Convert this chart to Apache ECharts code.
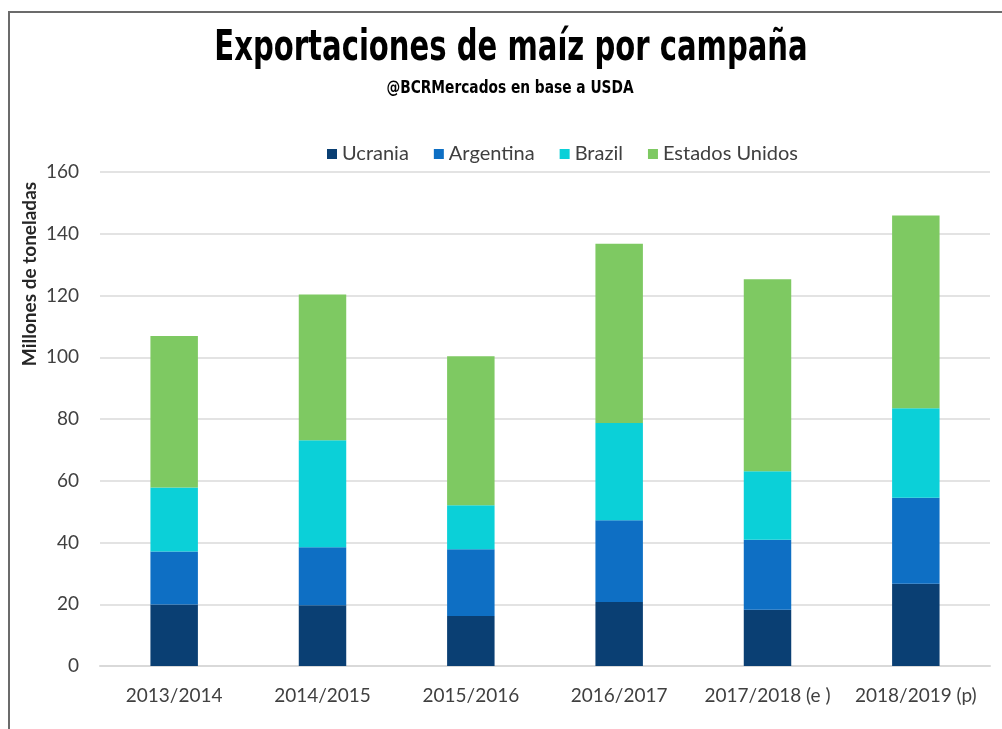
<!DOCTYPE html>
<html>
<head>
<meta charset="utf-8">
<script src="https://cdn.jsdelivr.net/npm/echarts@6/dist/echarts.min.js"></script>
<style>
  html, body { margin: 0; padding: 0; background: #ffffff; }
  #chart { width: 1002px; height: 729px; }
  #frame {
    position: absolute; left: 8px; top: 11px; width: 994px; height: 718px;
    border-top: 2px solid #6b6b6b; border-left: 2px solid #6b6b6b;
    pointer-events: none;
  }
</style>
</head>
<body>
<div id="chart"></div>
<div id="frame"></div>
<script>
const campaigns = ["2013/2014", "2014/2015", "2015/2016", "2016/2017", "2017/2018 (e )", "2018/2019 (p)"];
const ucrania = [19.9, 19.7, 16.2, 20.7, 18.2, 26.6];
const argentina = [17.2, 18.8, 21.6, 26.5, 22.7, 27.9];
const brazil = [20.7, 34.6, 14.3, 31.5, 22.2, 29.0];
const estadosUnidos = [49.1, 47.2, 48.2, 58.1, 62.2, 62.4];

const labelFont = "Lato, 'Open Sans', sans-serif";
const titleFont = "'DejaVu Sans Condensed', 'Liberation Sans', sans-serif";

const chart = echarts.init(document.getElementById("chart"), null, { renderer: "canvas" });

function stackSeries(name, data, color) {
  return {
    name,
    type: "bar",
    stack: "total",
    barWidth: "32%",
    data,
    itemStyle: { color },
  };
}

chart.setOption({
  animation: false,
  legend: {
    top: 139,
    left: 322,
    itemWidth: 10,
    itemHeight: 10,
    itemGap: 25,
    icon: "rect",
    textStyle: { fontFamily: labelFont, fontSize: 20, color: "#404040" },
  },
  grid: { left: 100, right: 12, top: 172, bottom: 63, containLabel: false },
  xAxis: {
    type: "category",
    data: campaigns,
    axisTick: { show: false },
    axisLine: { lineStyle: { color: "#d9d9d9", width: 2 } },
    axisLabel: { fontFamily: labelFont, fontSize: 19, color: "#404040", margin: 20, interval: 0 },
  },
  yAxis: {
    type: "value",
    min: 0,
    max: 160,
    interval: 20,
    axisLine: { show: false },
    axisTick: { show: false },
    axisLabel: { fontFamily: labelFont, fontSize: 19, color: "#404040", margin: 21 },
    splitLine: { lineStyle: { color: "#e3e3e3", width: 2 } },
  },
  graphic: [
    {
      // condensed display title, squeezed to the reference's width
      type: "text",
      x: 511,
      y: 49,
      scaleX: 0.77,
      style: {
        text: "Exportaciones de maíz por campaña",
        fontFamily: titleFont,
        fontSize: 42,
        fontWeight: "bold",
        fill: "#000000",
        textAlign: "center",
        textVerticalAlign: "middle",
      },
    },
    {
      type: "text",
      x: 510,
      y: 89,
      scaleX: 0.9,
      style: {
        text: "@BCRMercados en base a USDA",
        fontFamily: titleFont,
        fontSize: 17,
        fontWeight: "bold",
        fill: "#000000",
        textAlign: "center",
        textVerticalAlign: "middle",
      },
    },
    {
      type: "text",
      x: 30,
      y: 274,
      rotation: Math.PI / 2,
      style: {
        text: "Millones de toneladas",
        fontFamily: labelFont,
        fontSize: 19,
        fontWeight: "bold",
        fill: "#262626",
        textAlign: "center",
        textVerticalAlign: "middle",
      },
    },
  ],
  series: [
    stackSeries("Ucrania", ucrania, "#0a3f73"),
    stackSeries("Argentina", argentina, "#0e6fc4"),
    stackSeries("Brazil", brazil, "#0bd0d8"),
    stackSeries("Estados Unidos", estadosUnidos, "#7ec962"),
  ],
});
</script>
</body>
</html>
